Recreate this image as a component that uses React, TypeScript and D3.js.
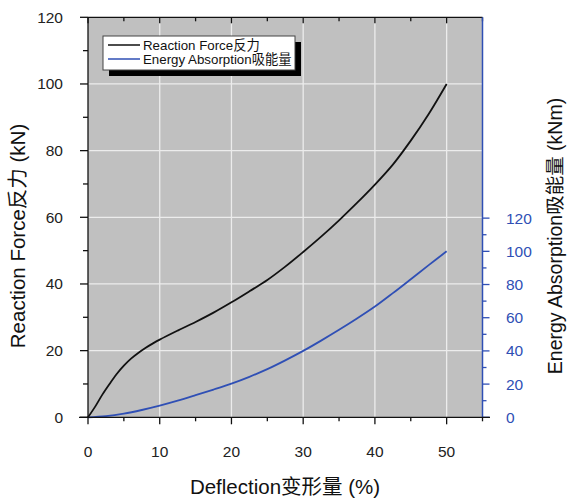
import React from "react";
import * as d3 from "d3";

const deflection = [0, 1, 2, 3, 4, 5, 6, 7, 8, 9, 10, 12.5, 15, 17.5, 20, 22.5, 25, 27.5, 30, 32.5, 35, 37.5, 40, 42.5, 45, 47.5, 50];
const reactionForce = [0, 3.2, 6.8, 10, 13, 15.5, 17.6, 19.3, 20.8, 22.1, 23.3, 26, 28.6, 31.4, 34.5, 37.8, 41.2, 45.2, 49.6, 54.2, 59.1, 64.3, 69.8, 75.8, 83, 91, 100];
const energyX = [0, 2.5, 5, 7.5, 10, 12.5, 15, 17.5, 20, 22.5, 25, 27.5, 30, 32.5, 35, 37.5, 40, 42.5, 45, 47.5, 50];
const energyAbsorption = [0, 0.7, 2.2, 4.4, 7, 10, 13.3, 16.7, 20.3, 24.4, 29, 34.3, 40, 46.2, 52.7, 59.5, 66.7, 74.8, 83.2, 91.7, 100];
const xTicks = [0, 10, 20, 30, 40, 50];
const leftTicks = [0, 20, 40, 60, 80, 100, 120];
const rightTicks = [0, 20, 40, 60, 80, 100, 120];
const legendLabels = ["Reaction Force反力", "Energy Absorption吸能量"];

const W = 568, H = 498;
const L = 88, R = 482.5, T = 17.3, B = 417.3;
const BLUE = "#2f4fb5";
const FONT = "'Liberation Sans', Arial, 'Noto Sans CJK SC', sans-serif";

export default function App() {
  const x = d3.scaleLinear().domain([0, 55]).range([L, R]);
  const yL = d3.scaleLinear().domain([0, 120]).range([B, T]);
  const yR = d3.scaleLinear().domain([0, 241]).range([B, T]);

  const forceLine = d3.line<number>().x((_, i) => x(deflection[i])).y((d) => yL(d)).curve(d3.curveCatmullRom.alpha(0.5));
  const energyLine = d3.line<number>().x((_, i) => x(energyX[i])).y((d) => yR(d)).curve(d3.curveCatmullRom.alpha(0.5));

  const minorX = d3.range(0, 56, 5);
  const minorL = d3.range(0, 121, 10);
  const minorR = d3.range(0, 121, 10);

  return (
    <svg width={W} height={H} style={{ position: "absolute", left: 0, top: 0, background: "#fff" }} fontFamily={FONT}>
      <rect x={L} y={T} width={R - L} height={B - T} fill="#c0c0c0" />
      {xTicks.filter((t) => t > 0).map((t) => (
        <line key={"gx" + t} x1={x(t)} x2={x(t)} y1={T} y2={B} stroke="#ececec" strokeWidth={1.3} />
      ))}
      {leftTicks.filter((t) => t > 0 && t < 120).map((t) => (
        <line key={"gy" + t} x1={L} x2={R} y1={yL(t)} y2={yL(t)} stroke="#ececec" strokeWidth={1.3} />
      ))}

      <path d={energyLine(energyAbsorption) || ""} fill="none" stroke={BLUE} strokeWidth={1.8} />
      <path d={forceLine(reactionForce) || ""} fill="none" stroke="#111" strokeWidth={1.8} />

      {/* top border */}
      <line x1={L} x2={R} y1={T} y2={T} stroke="#111" strokeWidth={1.3} />
      {minorX.map((t) => (
        <line key={"tt" + t} x1={x(t)} x2={x(t)} y1={T} y2={T + (t % 10 === 0 ? 6 : 4)} stroke="#111" strokeWidth={1.3} />
      ))}

      {/* left axis */}
      <line x1={L} x2={L} y1={T} y2={B} stroke="#111" strokeWidth={1.3} />
      {minorL.map((t) => (
        <line key={"lt" + t} x1={L - (t % 20 === 0 ? 8 : 5)} x2={L} y1={yL(t)} y2={yL(t)} stroke="#111" strokeWidth={1.3} />
      ))}
      {leftTicks.map((t) => (
        <text key={"ll" + t} x={63} y={yL(t)} dy="0.35em" textAnchor="end" fontSize={15.5} fill="#222">{t}</text>
      ))}

      {/* right axis */}
      <line x1={R} x2={R} y1={T} y2={B} stroke={BLUE} strokeWidth={1.5} />
      {minorR.map((t) => (
        <line key={"rt" + t} x1={R} x2={R + (t % 20 === 0 ? 7 : 4)} y1={yR(t)} y2={yR(t)} stroke={BLUE} strokeWidth={1.3} />
      ))}
      {rightTicks.map((t) => (
        <text key={"rl" + t} x={506} y={yR(t)} dy="0.35em" textAnchor="start" fontSize={15.5} fill={BLUE}>{t}</text>
      ))}

      {/* bottom axis */}
      <line x1={79} x2={490} y1={B} y2={B} stroke="#111" strokeWidth={1.3} />
      {minorX.map((t) => (
        <line key={"bt" + t} x1={x(t)} x2={x(t)} y1={B} y2={B + (t % 10 === 0 ? 7 : 4)} stroke="#111" strokeWidth={1.3} />
      ))}
      {xTicks.map((t) => (
        <text key={"bl" + t} x={x(t)} y={452} dy="0.35em" textAnchor="middle" fontSize={15.5} fill="#222">{t}</text>
      ))}

      {/* axis titles */}
      <text x={285} y={487} dy="0.35em" textAnchor="middle" fontSize={20.5} fill="#111">Deflection变形量 (%)</text>
      <text transform="translate(18,236) rotate(-90)" dy="0.35em" textAnchor="middle" fontSize={20.5} fill="#111">Reaction Force反力 (kN)</text>
      <text transform="translate(555,236) rotate(-90)" dy="0.35em" textAnchor="middle" fontSize={19.5} fill="#111">Energy Absorption吸能量 (kNm)</text>

      {/* legend */}
      <rect x={109} y={42} width={192} height={34} fill="#000" />
      <rect x={103} y={36} width={192} height={34} fill="#fff" stroke="#444" strokeWidth={1} />
      <line x1={108} x2={140} y1={45} y2={45} stroke="#111" strokeWidth={1.5} />
      <line x1={108} x2={140} y1={59} y2={59} stroke={BLUE} strokeWidth={1.5} />
      {legendLabels.map((s, i) => (
        <text key={s} x={143} y={45 + i * 14} dy="0.35em" fontSize={13.3} fill="#111">{s}</text>
      ))}
    </svg>
  );
}
